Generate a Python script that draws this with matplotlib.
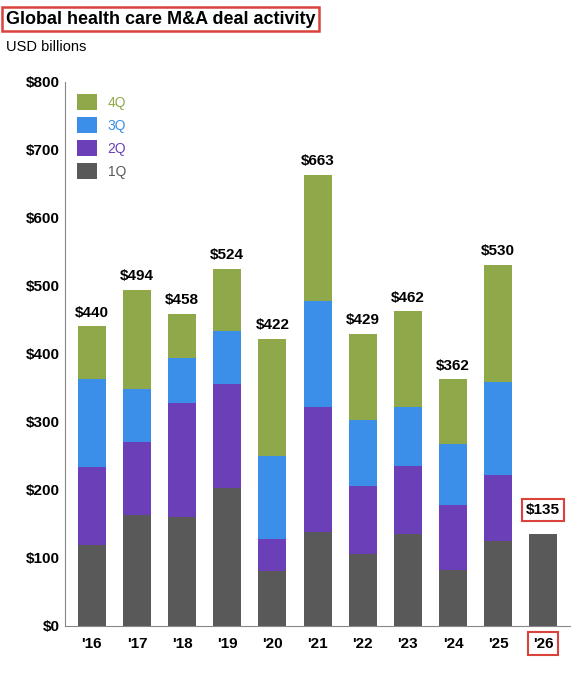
import matplotlib.pyplot as plt
from matplotlib.ticker import FuncFormatter

plt.rcParams['font.family'] = ['Liberation Sans', 'DejaVu Sans']

years = ["'16", "'17", "'18", "'19", "'20", "'21", "'22", "'23", "'24", "'25", "'26"]
q1 = [119, 162, 160, 203, 80, 138, 105, 135, 82, 124, 135]
q2 = [114, 108, 167, 153, 47, 183, 101, 99, 96, 98, 0]
q3 = [129, 78, 66, 77, 122, 156, 97, 87, 89, 136, 0]
q4 = [78, 146, 65, 91, 173, 186, 126, 141, 95, 172, 0]
totals = [440, 494, 458, 524, 422, 663, 429, 462, 362, 530, 135]

colors = {'1Q': '#595959', '2Q': '#6b3fb8', '3Q': '#3b8fe8', '4Q': '#8fa84a'}

fig = plt.figure(figsize=(5.88, 6.8), dpi=100)
ax = fig.add_axes([0.11, 0.08, 0.86, 0.80])

x = list(range(len(years)))
w = 0.62
b2 = [a for a in q1]
b3 = [a + b for a, b in zip(q1, q2)]
b4 = [a + b + c for a, b, c in zip(q1, q2, q3)]
h1 = ax.bar(x, q1, w, color=colors['1Q'], label='1Q')
h2 = ax.bar(x, q2, w, bottom=b2, color=colors['2Q'], label='2Q')
h3 = ax.bar(x, q3, w, bottom=b3, color=colors['3Q'], label='3Q')
h4 = ax.bar(x, q4, w, bottom=b4, color=colors['4Q'], label='4Q')

for i, t in enumerate(totals):
    if i == len(totals) - 1:
        ax.text(i, t + 25, f'${t}', ha='center', va='bottom', fontsize=11, fontweight='bold',
                bbox=dict(boxstyle='square,pad=0.25', fc='white', ec='#d9433b', lw=1.5))
    else:
        ax.text(i, t + 10, f'${t}', ha='center', va='bottom', fontsize=11, fontweight='bold')

ax.set_ylim(0, 800)
ax.set_xlim(-0.6, len(years) - 0.4)
ax.set_yticks(range(0, 801, 100))
ax.yaxis.set_major_formatter(FuncFormatter(lambda v, p: f'${int(v)}'))
ax.set_xticks(x)
ax.set_xticklabels(years)
ax.tick_params(axis='both', labelsize=11, length=0)
ax.tick_params(axis='x', pad=8)
for t in ax.get_xticklabels() + ax.get_yticklabels():
    t.set_fontweight('bold')
lab = ax.get_xticklabels()[-1]
lab.set_bbox(dict(boxstyle='square,pad=0.3', fc='white', ec='#d9433b', lw=1.5))
for s in ['top', 'right']:
    ax.spines[s].set_visible(False)
ax.spines['left'].set_color('#888888')
ax.spines['bottom'].set_color('#888888')

leg = ax.legend(handles=[h4, h3, h2, h1], loc='upper left', frameon=False, fontsize=10,
                handlelength=1.4, handleheight=1.4, bbox_to_anchor=(0.0, 1.0))
for txt, c in zip(leg.get_texts(), [colors['4Q'], colors['3Q'], colors['2Q'], colors['1Q']]):
    txt.set_color(c)

fig.text(0.01, 0.965, 'Global health care M&A deal activity', fontsize=13, fontweight='bold',
         bbox=dict(boxstyle='square,pad=0.2', fc='white', ec='#d9433b', lw=1.8))
fig.text(0.01, 0.925, 'USD billions', fontsize=10.5)

fig.savefig('out.png')
